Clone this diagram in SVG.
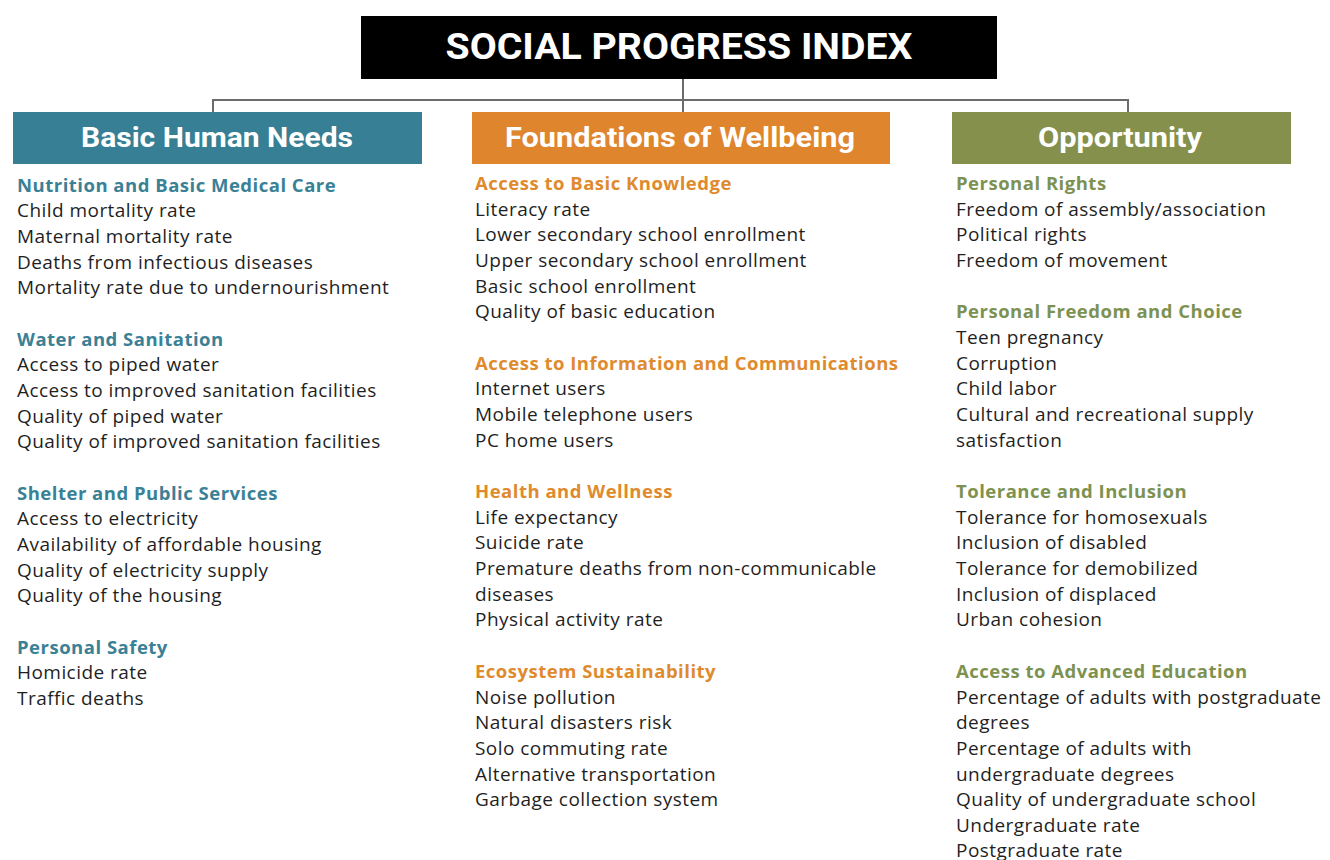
<svg xmlns="http://www.w3.org/2000/svg" width="1330" height="860" viewBox="0 0 1330 860">
  <style>
    .bg { fill: #ffffff; }
    .title { font-family: Roboto, "Liberation Sans", sans-serif; font-weight: 700; font-size: 36px; fill: #ffffff; text-anchor: middle; }
    .pillar { font-family: Roboto, "Liberation Sans", sans-serif; font-weight: 700; font-size: 27px; fill: #ffffff; text-anchor: middle; }
    .item { font-family: "Open Sans", "Liberation Sans", sans-serif; font-size: 19px; letter-spacing: 0.45px; fill: #1f1f1f; }
    .head { font-family: "Open Sans", "Liberation Sans", sans-serif; font-size: 18.5px; letter-spacing: 0.5px; font-weight: 700; }
    .teal { fill: #3a8196; }
    .orange { fill: #e08a2e; }
    .olive { fill: #7d9251; }
    .link { fill: none; stroke: #6b6b6b; stroke-width: 2; }
  </style>
  <rect class="bg" x="0" y="0" width="1330" height="860"/>

  <!-- tree connectors -->
  <g id="connectors">
    <path class="link" d="M683 79 V112"/>
    <path class="link" d="M213 112 V100 H1128 V112"/>
  </g>

  <!-- index title -->
  <g id="node-index">
    <rect x="361" y="16" width="636" height="63" fill="#000000"/>
    <text class="title" x="679" y="59" textLength="467" lengthAdjust="spacingAndGlyphs">SOCIAL PROGRESS INDEX</text>
  </g>

  <!-- pillar 1 -->
  <g id="node-basic-human-needs">
    <rect x="13" y="112" width="409" height="52" fill="#377f94"/>
    <text class="pillar" x="217" y="147" textLength="272" lengthAdjust="spacingAndGlyphs">Basic Human Needs</text>
  </g>
  <g id="list-basic-human-needs" transform="translate(0,1)">
    <text class="head teal" x="17" y="191">Nutrition and Basic Medical Care</text>
    <text class="item" x="17" y="216">Child mortality  rate</text>
    <text class="item" x="17" y="242">Maternal mortality rate</text>
    <text class="item" x="17" y="268">Deaths from infectious diseases</text>
    <text class="item" x="17" y="293">Mortality rate due to undernourishment</text>
    <text class="head teal" x="17" y="345">Water and Sanitation</text>
    <text class="item" x="17" y="370">Access to piped water</text>
    <text class="item" x="17" y="396">Access to improved sanitation facilities</text>
    <text class="item" x="17" y="422">Quality of piped water</text>
    <text class="item" x="17" y="447">Quality of improved sanitation facilities</text>
    <text class="head teal" x="17" y="499">Shelter and Public Services</text>
    <text class="item" x="17" y="524">Access to electricity</text>
    <text class="item" x="17" y="550">Availability  of affordable housing</text>
    <text class="item" x="17" y="576">Quality of electricity supply</text>
    <text class="item" x="17" y="601">Quality of the housing</text>
    <text class="head teal" x="17" y="653">Personal Safety</text>
    <text class="item" x="17" y="678">Homicide rate</text>
    <text class="item" x="17" y="704">Traffic deaths</text>
  </g>

  <!-- pillar 2 -->
  <g id="node-foundations-of-wellbeing">
    <rect x="472" y="112" width="418" height="52" fill="#df852e"/>
    <text class="pillar" x="680" y="147" textLength="350" lengthAdjust="spacingAndGlyphs">Foundations of Wellbeing</text>
  </g>
  <g id="list-foundations-of-wellbeing" transform="translate(0,1)">
    <text class="head orange" x="475" y="189">Access to Basic Knowledge</text>
    <text class="item" x="475" y="215">Literacy rate</text>
    <text class="item" x="475" y="240">Lower secondary school enrollment</text>
    <text class="item" x="475" y="266">Upper secondary school enrollment</text>
    <text class="item" x="475" y="292">Basic school enrollment</text>
    <text class="item" x="475" y="317">Quality of basic education</text>
    <text class="head orange" x="475" y="369">Access to Information and Communications</text>
    <text class="item" x="475" y="394">Internet users</text>
    <text class="item" x="475" y="420">Mobile telephone users</text>
    <text class="item" x="475" y="446">PC home users</text>
    <text class="head orange" x="475" y="497">Health and Wellness</text>
    <text class="item" x="475" y="523">Life expectancy</text>
    <text class="item" x="475" y="548">Suicide rate</text>
    <text class="item" x="475" y="574">Premature deaths from non-communicable</text>
    <text class="item" x="475" y="600">diseases</text>
    <text class="item" x="475" y="625">Physical activity rate</text>
    <text class="head orange" x="475" y="677">Ecosystem Sustainability</text>
    <text class="item" x="475" y="703">Noise pollution</text>
    <text class="item" x="475" y="728">Natural disasters risk</text>
    <text class="item" x="475" y="754">Solo commuting rate</text>
    <text class="item" x="475" y="780">Alternative transportation</text>
    <text class="item" x="475" y="805">Garbage collection system</text>
  </g>

  <!-- pillar 3 -->
  <g id="node-opportunity">
    <rect x="952" y="112" width="339" height="52" fill="#84904b"/>
    <text class="pillar" x="1120" y="147" textLength="164" lengthAdjust="spacingAndGlyphs">Opportunity</text>
  </g>
  <g id="list-opportunity" transform="translate(0,1)">
    <text class="head olive" x="956" y="189">Personal Rights</text>
    <text class="item" x="956" y="215">Freedom of assembly/association</text>
    <text class="item" x="956" y="240">Political  rights</text>
    <text class="item" x="956" y="266">Freedom of movement</text>
    <text class="head olive" x="956" y="317">Personal Freedom and Choice</text>
    <text class="item" x="956" y="343">Teen pregnancy</text>
    <text class="item" x="956" y="369">Corruption</text>
    <text class="item" x="956" y="394">Child labor</text>
    <text class="item" x="956" y="420">Cultural and recreational supply</text>
    <text class="item" x="956" y="446">satisfaction</text>
    <text class="head olive" x="956" y="497">Tolerance and Inclusion</text>
    <text class="item" x="956" y="523">Tolerance for homosexuals</text>
    <text class="item" x="956" y="548">Inclusion of disabled</text>
    <text class="item" x="956" y="574">Tolerance for demobilized</text>
    <text class="item" x="956" y="600">Inclusion of displaced</text>
    <text class="item" x="956" y="625">Urban cohesion</text>
    <text class="head olive" x="956" y="677">Access to Advanced Education</text>
    <text class="item" x="956" y="703">Percentage of adults with postgraduate</text>
    <text class="item" x="956" y="728">degrees</text>
    <text class="item" x="956" y="754">Percentage of adults with</text>
    <text class="item" x="956" y="780">undergraduate degrees</text>
    <text class="item" x="956" y="805">Quality of undergraduate school</text>
    <text class="item" x="956" y="831">Undergraduate rate</text>
    <text class="item" x="956" y="856">Postgraduate rate</text>
  </g>
</svg>
